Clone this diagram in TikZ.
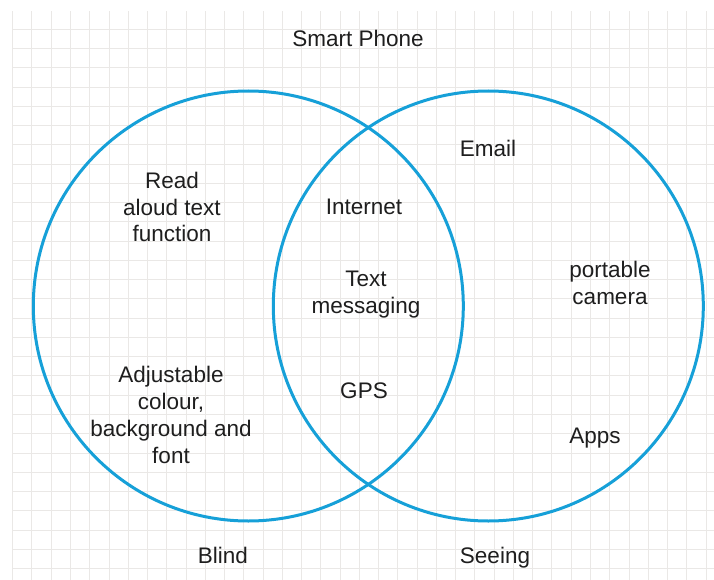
\documentclass[tikz,border=0pt]{standalone}
\usepackage{fontspec}
\setmainfont{Liberation Sans}
\definecolor{ringblue}{RGB}{22,160,216}
\definecolor{gridgray}{RGB}{234,232,230}
\definecolor{labelgray}{RGB}{30,30,30}
\begin{document}
\begin{tikzpicture}[x=1pt,y=-1pt,
  ring/.style={draw=ringblue,line width=3pt},
  lbl/.style={align=center,text=labelgray,inner sep=0pt,
    font=\fontsize{22.5}{26.7}\selectfont}]
\useasboundingbox (0,0) rectangle (714,580);
\fill[white] (0,0) rectangle (714,580);
% background grid
\begin{scope}
\clip (12,11.5) rectangle (714,580);
\foreach \k in {0,...,36}
  \draw[gridgray,line width=1pt] ({12.7+19.26*\k},0) -- ({12.7+19.26*\k},580);
\foreach \k in {0,...,28}
  \draw[gridgray,line width=1pt] (0,{29.3+19.26*\k}) -- (714,{29.3+19.26*\k});
\end{scope}
% the two sets
\node[ring,circle,minimum size=430pt,inner sep=0pt] (blind) at (248.3,306) {};
\node[ring,circle,minimum size=430pt,inner sep=0pt] (seeing) at (488.3,306) {};
% labels
\node[lbl] (title) at (358,38) {Smart Phone};
\node[lbl] (email) at (488,148) {Email};
\node[lbl] (read) at (172,207) {Read\\aloud text\\function};
\node[lbl] (internet) at (364,206.5) {Internet};
\node[lbl] (text) at (366,294.5) {Text\\messaging};
\node[lbl] (camera) at (610,283) {portable\\camera};
\node[lbl] (adjust) at (171,415) {Adjustable\\colour,\\background and\\font};
\node[lbl] (gps) at (364,391) {GPS};
\node[lbl] (apps) at (595,438.5) {Apps};
\node[lbl] (blindlbl) at (223,555.5) {Blind};
\node[lbl] (seeinglbl) at (495,557.5) {Seeing};
\end{tikzpicture}
\end{document}
